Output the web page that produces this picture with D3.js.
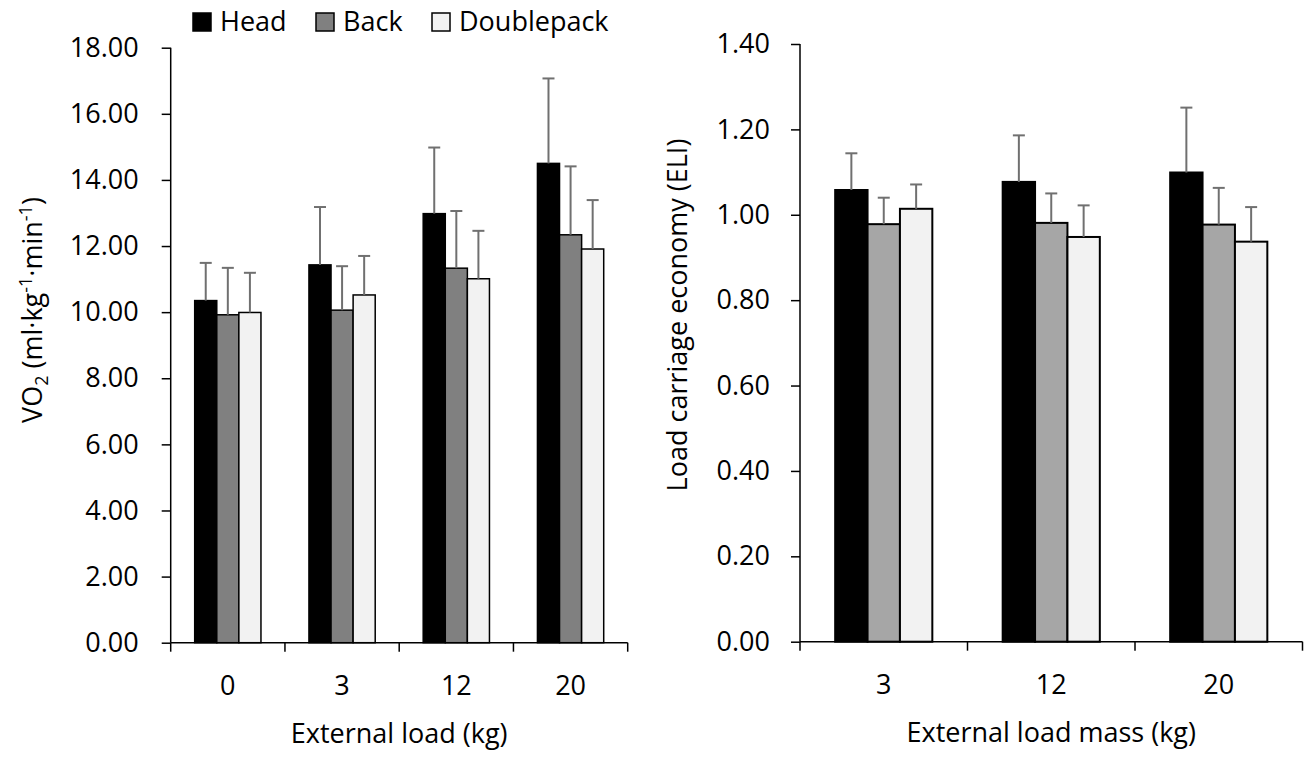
<!DOCTYPE html>
<html>
<head>
<meta charset="utf-8">
<script src="https://cdn.jsdelivr.net/npm/d3@7"></script>
<style>
  body { margin: 0; background: #fff; }
  svg { font-family: "Open Sans", sans-serif; }
  .tick text { font-size: 27px; fill: #000; font-family: "Open Sans", sans-serif; }
</style>
</head>
<body>
<svg id="chart" width="1307" height="761"></svg>
<script>
// series names and shading
var seriesNames = ['Head', 'Back', 'Doublepack'];

// left panel: oxygen uptake
var loadsLeft = ['0', '3', '12', '20'];
var vo2Head = [10.35, 11.43, 12.98, 14.50];
var vo2Back = [9.92, 10.06, 11.33, 12.34];
var vo2Double = [9.99, 10.52, 11.01, 11.91];
var vo2HeadSd = [1.14, 1.75, 2.00, 2.57];
var vo2BackSd = [1.42, 1.33, 1.73, 2.07];
var vo2DoubleSd = [1.20, 1.18, 1.45, 1.48];
var vo2Ticks = [0, 2, 4, 6, 8, 10, 12, 14, 16, 18];

// right panel: load carriage economy
var loadsRight = ['3', '12', '20'];
var eliHead = [1.058, 1.077, 1.099];
var eliBack = [0.978, 0.981, 0.977];
var eliDouble = [1.014, 0.948, 0.937];
var eliHeadSd = [0.086, 0.109, 0.152];
var eliBackSd = [0.062, 0.069, 0.086];
var eliDoubleSd = [0.057, 0.074, 0.081];
var eliTicks = [0, 0.2, 0.4, 0.6, 0.8, 1.0, 1.2, 1.4];

var svg = d3.select('#chart');

function drawPanel(cfg) {
	var g = svg.append('g');

	var x = d3.scaleBand().domain(cfg.cats).range([cfg.left, cfg.right]).padding(0);
	var pad = x.bandwidth() * 0.21;
	var xs = d3.scaleBand().domain(seriesNames).range([pad, x.bandwidth() - pad]).padding(0);
	var y = d3.scaleLinear().domain([0, cfg.max]).range([cfg.bottom, cfg.top]);

	var rows = [];
	cfg.cats.forEach(function(c, i) {
		seriesNames.forEach(function(s, j) {
			rows.push({ cat: c, series: s, value: cfg.values[j][i], sd: cfg.sds[j][i], fill: cfg.fills[j] });
		});
	});

	// bars
	g.selectAll('rect.bar').data(rows).enter().append('rect')
		.attr('class', 'bar')
		.attr('x', function(d) { return x(d.cat) + xs(d.series); })
		.attr('width', xs.bandwidth())
		.attr('y', function(d) { return y(d.value); })
		.attr('height', function(d) { return cfg.bottom - y(d.value); })
		.attr('fill', function(d) { return d.fill; })
		.attr('stroke', '#000')
		.attr('stroke-width', cfg.barStroke);

	// upper error bars
	var eb = g.selectAll('g.err').data(rows).enter().append('g').attr('class', 'err')
		.attr('stroke', '#707070').attr('stroke-width', 2);
	eb.append('line')
		.attr('x1', function(d) { return x(d.cat) + xs(d.series) + xs.bandwidth() / 2; })
		.attr('x2', function(d) { return x(d.cat) + xs(d.series) + xs.bandwidth() / 2; })
		.attr('y1', function(d) { return y(d.value); })
		.attr('y2', function(d) { return y(d.value + d.sd); });
	eb.append('line')
		.attr('x1', function(d) { return x(d.cat) + xs(d.series) + xs.bandwidth() / 2 - 6; })
		.attr('x2', function(d) { return x(d.cat) + xs(d.series) + xs.bandwidth() / 2 + 6; })
		.attr('y1', function(d) { return y(d.value + d.sd); })
		.attr('y2', function(d) { return y(d.value + d.sd); });

	// y axis
	var yAxis = d3.axisLeft(y).tickValues(cfg.ticks).tickSize(9).tickPadding(cfg.yPad)
		.tickFormat(d3.format('.2f'));
	var ya = g.append('g').attr('transform', 'translate(' + cfg.left + ',0)').call(yAxis);
	ya.select('.domain').attr('stroke-width', 1.5).attr('d', 'M0,' + cfg.top + 'V' + cfg.bottom);
	ya.selectAll('.tick line').attr('stroke-width', 1.5);

	// x axis: labels centred in bands, ticks at band edges
	var xAxis = d3.axisBottom(x).tickSize(0).tickPadding(33);
	var xa = g.append('g').attr('transform', 'translate(0,' + cfg.bottom + ')').call(xAxis);
	xa.select('.domain').remove();
	g.append('line')
		.attr('x1', cfg.left).attr('x2', cfg.right)
		.attr('y1', cfg.bottom).attr('y2', cfg.bottom)
		.attr('stroke', '#000').attr('stroke-width', 1.5);
	var edges = cfg.cats.map(function(c) { return x(c); }).concat([cfg.right]);
	g.selectAll('line.xtick').data(edges).enter().append('line')
		.attr('class', 'xtick')
		.attr('x1', function(d) { return d; }).attr('x2', function(d) { return d; })
		.attr('y1', cfg.bottom).attr('y2', cfg.bottom + 9)
		.attr('stroke', '#000').attr('stroke-width', 1.5);

	// x title
	g.append('text')
		.attr('x', (cfg.left + cfg.right) / 2).attr('y', cfg.bottom + 100)
		.attr('text-anchor', 'middle').attr('font-size', 27)
		.text(cfg.xTitle);

	return g;
}

var left = drawPanel({
	cats: loadsLeft, left: 170.7, right: 627.7, top: 47.7, bottom: 642.7, max: 18,
	values: [vo2Head, vo2Back, vo2Double], sds: [vo2HeadSd, vo2BackSd, vo2DoubleSd],
	fills: ['#000000', '#808080', '#f2f2f2'], ticks: vo2Ticks, barStroke: 1.5, yPad: 23,
	xTitle: 'External load (kg)'
});

var right = drawPanel({
	cats: loadsRight, left: 800, right: 1302.5, top: 44, bottom: 641.7, max: 1.4,
	values: [eliHead, eliBack, eliDouble], sds: [eliHeadSd, eliBackSd, eliDoubleSd],
	fills: ['#000000', '#a6a6a6', '#f2f2f2'], ticks: eliTicks, barStroke: 2, yPad: 21,
	xTitle: 'External load mass (kg)'
});

// y titles
var vt = left.append('text')
	.attr('transform', 'translate(42,310) rotate(-90)')
	.attr('text-anchor', 'middle').attr('font-size', 27);
vt.append('tspan').text('VO');
vt.append('tspan').attr('font-size', 18).attr('dy', 6).text('2');
vt.append('tspan').attr('dy', -6).text(' (ml·kg');
vt.append('tspan').attr('font-size', 18).attr('dy', -10).text('-1');
vt.append('tspan').attr('dy', 10).text('·min');
vt.append('tspan').attr('font-size', 18).attr('dy', -10).text('-1');
vt.append('tspan').attr('dy', 10).text(')');

right.append('text')
	.attr('transform', 'translate(687,315) rotate(-90)')
	.attr('text-anchor', 'middle').attr('font-size', 27)
	.text('Load carriage economy (ELI)');

// legend
var legendFills = ['#000000', '#808080', '#f2f2f2'];
var legendX = [193, 316, 432];
var lg = svg.selectAll('g.legend').data(seriesNames).enter().append('g')
	.attr('class', 'legend')
	.attr('transform', function(d, i) { return 'translate(' + legendX[i] + ',13)'; });
lg.append('rect')
	.attr('width', 18).attr('height', 18)
	.attr('fill', function(d, i) { return legendFills[i]; })
	.attr('stroke', '#000').attr('stroke-width', 1.5);
lg.append('text')
	.attr('x', 27).attr('y', 18)
	.attr('font-size', 27)
	.text(function(d) { return d; });
</script>
</body>
</html>
